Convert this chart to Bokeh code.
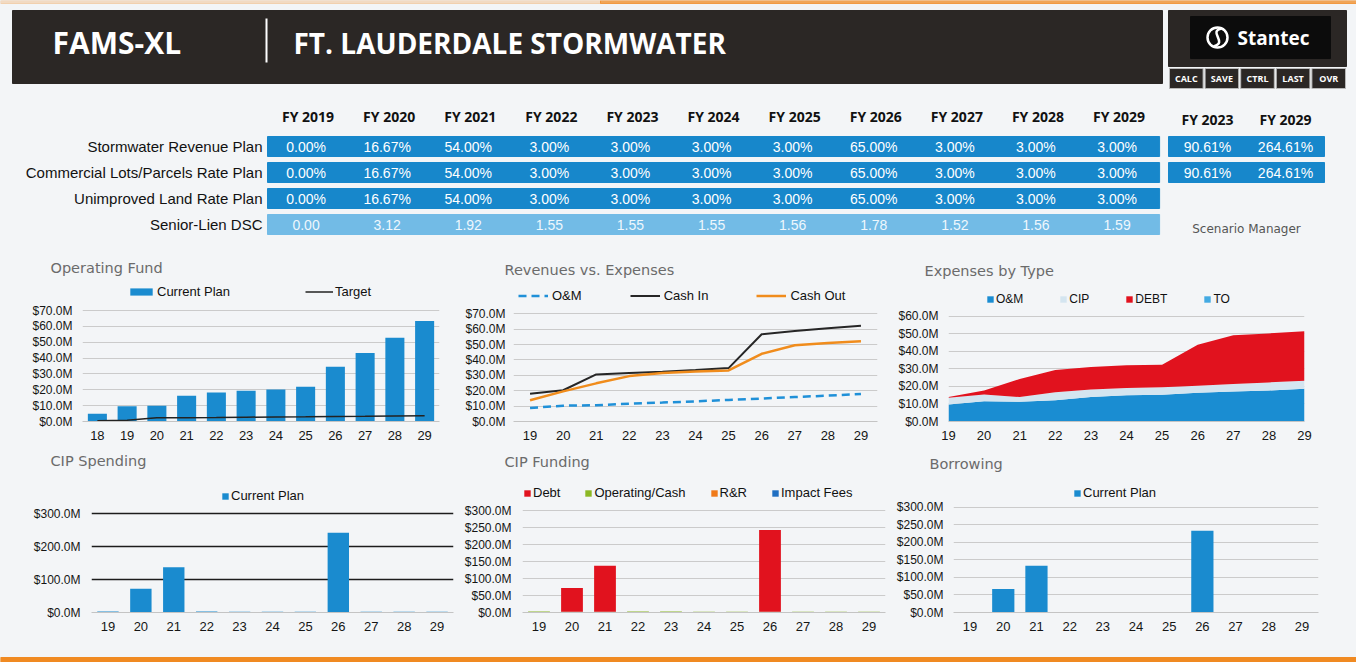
from bokeh.plotting import figure
from bokeh.layouts import column, row
from bokeh.models import (Range1d, FactorRange, FixedTicker, PrintfTickFormatter,
                          Legend, LegendItem, ColumnDataSource)
from bokeh.embed import file_html
from bokeh.resources import INLINE
from bokeh.core.properties import value

# ---------------- data ----------------
fy_labels = ["FY 2019", "FY 2020", "FY 2021", "FY 2022", "FY 2023", "FY 2024",
             "FY 2025", "FY 2026", "FY 2027", "FY 2028", "FY 2029"]
row_names = ["Stormwater Revenue Plan", "Commercial Lots/Parcels Rate Plan",
             "Unimproved Land Rate Plan", "Senior-Lien DSC"]
stormwater_plan = [0.00, 16.67, 54.00, 3.00, 3.00, 3.00, 3.00, 65.00, 3.00, 3.00, 3.00]
commercial_plan = [0.00, 16.67, 54.00, 3.00, 3.00, 3.00, 3.00, 65.00, 3.00, 3.00, 3.00]
unimproved_plan = [0.00, 16.67, 54.00, 3.00, 3.00, 3.00, 3.00, 65.00, 3.00, 3.00, 3.00]
senior_lien_dsc = [0.00, 3.12, 1.92, 1.55, 1.55, 1.55, 1.56, 1.78, 1.52, 1.56, 1.59]
summary_labels = ["FY 2023", "FY 2029"]
stormwater_cum = [90.61, 264.61]
commercial_cum = [90.61, 264.61]
buttons = ["CALC", "SAVE", "CTRL", "LAST", "OVR"]
chart_titles = ["Operating Fund", "Revenues vs. Expenses", "Expenses by Type",
                "CIP Spending", "CIP Funding", "Borrowing"]

op_years = ["18", "19", "20", "21", "22", "23", "24", "25", "26", "27", "28", "29"]
op_fund = [4.9, 9.6, 10.0, 16.2, 18.3, 19.4, 20.2, 21.9, 34.5, 43.2, 52.8, 63.4]
op_target = [0.5, 0.8, 2.3, 2.4, 2.5, 2.7, 2.9, 3.0, 3.2, 3.3, 3.5, 3.6]

years = ["19", "20", "21", "22", "23", "24", "25", "26", "27", "28", "29"]
rv_om = [8.8, 10.3, 10.6, 11.6, 12.3, 13.1, 14.0, 14.9, 15.9, 16.8, 17.9]
cash_in = [18.1, 20.3, 30.6, 31.5, 32.3, 33.4, 34.7, 56.7, 58.8, 60.6, 62.3]
cash_out = [13.8, 19.6, 24.8, 29.5, 31.5, 32.5, 33.2, 44.0, 49.6, 51.1, 52.2]

exp_om = [9.7, 11.5, 11.2, 12.1, 13.9, 14.9, 15.2, 16.4, 17.1, 17.7, 18.6]
exp_cip = [3.9, 3.9, 2.7, 4.6, 4.3, 4.2, 4.3, 4.0, 4.3, 4.6, 4.6]
exp_debt = [0.3, 2.3, 10.3, 12.7, 12.8, 12.9, 12.8, 23.3, 27.7, 27.9, 28.3]
exp_to = [0, 0, 0, 0, 0, 0, 0, 0, 0, 0, 0]

cip_spending = [3.0, 72.0, 137.5, 2.8, 2.6, 2.5, 2.4, 242.5, 2.3, 2.2, 2.0]
fund_debt = [0, 69.5, 135.0, 0, 0, 0, 0, 240.0, 0, 0, 0]
fund_operating = [3.0, 2.5, 2.5, 2.8, 2.6, 2.5, 2.4, 2.5, 2.3, 2.2, 2.0]
fund_rr = [0, 0, 0, 0, 0, 0, 0, 0, 0, 0, 0]
fund_impact = [0, 0, 0, 0, 0, 0, 0, 0, 0, 0, 0]
borrowing = [0, 67.0, 133.0, 0, 0, 0, 0, 233.0, 0, 0, 0]

# ---------------- style ----------------
BG = "#f3f5f7"
DARK = "#2b2725"
BLUE = "#1a8bcf"
TBLUE = "#1787cb"
LBLUE = "#72bbe6"
RED = "#e1121e"
GREEN = "#8cb824"
ORANGE = "#f08a22"
ARIAL = "Liberation Sans"
GOTHIC = "DejaVu Sans"
W = 1356


def canvas(h, y0):
    f = figure(width=W, height=h, x_range=Range1d(0, W), y_range=Range1d(y0 + h, y0),
               output_backend="svg", toolbar_location=None, min_border=0, title=None,
               x_axis_type=None, y_axis_type=None,
               background_fill_color=BG, border_fill_color=BG, outline_line_color=None)
    f.grid.visible = False
    return f


def titles(f, xs, ys, texts):
    f.text(x=xs, y=ys, text=texts, text_font=value(GOTHIC), text_font_size="14.5px",
           text_color="#6b6b6b", text_baseline="middle")


# ---------------- header + table (+ first-row chart titles) ----------------
top = canvas(280, 0)
top.quad(left=[0], right=[600], top=[0], bottom=[3], color=ORANGE, alpha=0.25)
top.quad(left=[600], right=[W], top=[0], bottom=[3], color=ORANGE, alpha=0.75)
top.quad(left=[12], right=[1162], top=[10], bottom=[83], color=DARK)
top.text(x=[52], y=[42], text=["FAMS-XL"], text_font=value("Open Sans"), text_font_style="bold",
         text_font_size="30px", text_color="white", text_baseline="middle")
top.segment(x0=[266], y0=[18], x1=[266], y1=[62], line_color="white", line_width=2)
top.text(x=[293], y=[42], text=["FT. LAUDERDALE STORMWATER"], text_font=value("Open Sans"),
         text_font_style="bold", text_font_size="28px", text_color="white", text_baseline="middle")

# Stantec block
top.quad(left=[1168], right=[1346], top=[10], bottom=[66], color=DARK)
top.quad(left=[1190], right=[1330], top=[16], bottom=[58], color="#0c0c0c")
top.circle(x=[1217], y=[37], radius=10, fill_color=None, line_color="white", line_width=2.5)
top.bezier(x0=[1221], y0=[28], x1=[1213], y1=[46], cx0=[1207], cy0=[31], cx1=[1228], cy1=[42],
           line_color="white", line_width=2.5)
top.text(x=[1237], y=[37], text=["Stantec"], text_font=value("Open Sans"), text_font_style="bold",
         text_font_size="19px", text_color="white", text_baseline="middle")
bw = 178 / len(buttons)
bx = [1168 + (i + 0.5) * bw for i in range(len(buttons))]
top.rect(x=bx, y=78, width=bw - 2, height=20, fill_color=DARK, line_color="#b8b8b8", line_width=1)
top.text(x=bx, y=78, text=buttons, text_font=value("Open Sans"), text_font_style="bold",
         text_font_size="9px", text_color="white", text_align="center", text_baseline="middle")

# table
col_w = 81.1
tbl_left = 267
col_x = [tbl_left + (i + 0.5) * col_w for i in range(len(fy_labels))]
row_y = [146, 172, 198, 224]
top.text(x=col_x, y=116, text=fy_labels, text_font=value("Open Sans"), text_font_style="bold",
         text_font_size="14px", text_color="#111111", text_align="center", text_baseline="middle")
top.text(x=262, y=row_y, text=row_names, text_font=value(ARIAL), text_font_size="15px",
         text_color="#111111", text_align="right", text_baseline="middle")
tbl_right = tbl_left + col_w * len(fy_labels)
top.quad(left=tbl_left, right=tbl_right, top=[y - 10 for y in row_y[:3]],
         bottom=[y + 10 for y in row_y[:3]], color=TBLUE)
top.quad(left=tbl_left, right=tbl_right, top=[row_y[3] - 10], bottom=[row_y[3] + 10], color=LBLUE)
for r, vals in enumerate([stormwater_plan, commercial_plan, unimproved_plan]):
    top.text(x=[c - 2 for c in col_x], y=row_y[r], text=[f"{v:.2f}%" for v in vals],
             text_font=value(ARIAL), text_font_size="14px", text_color="white",
             text_align="center", text_baseline="middle")
top.text(x=[c - 2 for c in col_x], y=row_y[3], text=[f"{v:.2f}" for v in senior_lien_dsc],
         text_font=value(ARIAL), text_font_size="14px", text_color="#eef7fd",
         text_align="center", text_baseline="middle")

sum_left, sum_w = 1168, 78
sum_x = [sum_left + (j + 0.5) * sum_w for j in range(len(summary_labels))]
top.text(x=sum_x, y=119, text=summary_labels, text_font=value("Open Sans"), text_font_style="bold",
         text_font_size="14px", text_color="#111111", text_align="center", text_baseline="middle")
top.quad(left=sum_left, right=sum_left + sum_w * 2, top=[y - 10 for y in row_y[:2]],
         bottom=[y + 10 for y in row_y[:2]], color=TBLUE)
for r, vals in enumerate([stormwater_cum, commercial_cum]):
    top.text(x=sum_x, y=row_y[r], text=[f"{v:.2f}%" for v in vals], text_font=value(ARIAL),
             text_font_size="14px", text_color="white", text_align="center", text_baseline="middle")
top.text(x=[1246], y=[228], text=["Scenario Manager"], text_font=value(GOTHIC),
         text_font_size="12px", text_color="#555555", text_align="center", text_baseline="middle")
titles(top, [50, 504, 924], [267, 269, 270], chart_titles[:3])

# strip with second-row chart titles
mid = canvas(30, 446)
titles(mid, [50, 504, 929], [460, 461, 463], chart_titles[3:])


# ---------------- chart helper ----------------
def chart(w, h, xr, y_end, ticks, borders, y_standoff):
    l, r, t, b = borders
    p = figure(width=w, height=h, x_range=xr, y_range=Range1d(0, y_end), title=None,
               output_backend="svg", toolbar_location=None,
               min_border_left=l, min_border_right=r, min_border_top=t, min_border_bottom=b,
               background_fill_color=BG, border_fill_color=BG, outline_line_color=None)
    ya = p.yaxis[0]
    ya.ticker = FixedTicker(ticks=ticks)
    ya.formatter = PrintfTickFormatter(format="$%.1fM")
    ya.axis_line_color = None
    ya.major_tick_line_color = None
    ya.minor_tick_line_color = None
    ya.major_tick_in = 0
    ya.major_tick_out = 0
    ya.axis_label_standoff = 0
    ya.major_label_standoff = y_standoff
    ya.major_label_text_font = ARIAL
    ya.major_label_text_font_size = "12px"
    ya.major_label_text_color = "#151515"
    xa = p.xaxis[0]
    xa.axis_line_color = "#c4c4c4"
    xa.major_tick_line_color = None
    xa.minor_tick_line_color = None
    xa.major_tick_in = 0
    xa.major_tick_out = 0
    xa.axis_label_standoff = 0
    xa.major_label_standoff = 9
    xa.major_label_text_font = ARIAL
    xa.major_label_text_font_size = "13px"
    xa.major_label_text_color = "#151515"
    p.xgrid.visible = False
    p.ygrid.grid_line_color = "#cbcbcb"
    return p


def legend(p, items, loc, spacing, gw, gh, standoff, size="13px"):
    lg = Legend(items=items, orientation="horizontal", location=loc, spacing=spacing,
                padding=0, margin=0, glyph_width=gw, glyph_height=gh, label_height=14,
                label_standoff=standoff, border_line_color=None, background_fill_alpha=0,
                label_text_font=ARIAL, label_text_font_size=size, label_text_color="#111111")
    p.add_layout(lg)


H1, H2 = 166, 176   # row heights (frames: 281..421 and 477..612)

# Chart 1: Operating Fund
c1 = chart(458, H1, FactorRange(*op_years), 88.3, [0, 10, 20, 30, 40, 50, 60, 70],
           (82, 19, 1, 25), 10)
r1 = c1.vbar(x=op_years, top=op_fund, width=0.64, fill_color=BLUE, line_color=None)
r2 = c1.line(x=op_years, y=op_target, line_color="#222222", line_width=1.5)
legend(c1, [LegendItem(label="Current Plan", renderers=[r1]), LegendItem(label="Target", renderers=[r2])],
       (45, 122), 75, 28, 9, 2)

# Chart 2: Revenues vs. Expenses
c2 = chart(435, H1, FactorRange(*years), 91.0, [0, 10, 20, 30, 40, 50, 60, 70],
           (55, 16, 1, 25), 8)
ra = c2.line(x=years, y=rv_om, line_color="#1f90d8", line_width=2.5, line_dash="8 5")
rb = c2.line(x=years, y=cash_in, line_color="#262626", line_width=2)
rc = c2.line(x=years, y=cash_out, line_color="#f08c1c", line_width=2.5)
legend(c2, [LegendItem(label="O&M", renderers=[ra]), LegendItem(label="Cash In", renderers=[rb]),
            LegendItem(label="Cash Out", renderers=[rc])], (5, 118), 48, 30, 9, 4)

# Chart 3: Expenses by Type
xs = [int(y) for y in years]
c3 = chart(463, H1, Range1d(xs[0], xs[-1]), 79.8, [0, 10, 20, 30, 40, 50, 60],
           (55, 52, 1, 25), 10)
c3.xaxis[0].ticker = FixedTicker(ticks=xs)
src3 = ColumnDataSource(dict(x=xs, om=exp_om, cip=exp_cip, debt=exp_debt, to=exp_to))
areas = c3.varea_stack(["om", "cip", "debt", "to"], x="x", source=src3,
                       color=["#1a8dd2", "#d4e5f0", RED, "#43aae2"])
legend(c3, [LegendItem(label=n, renderers=[a]) for n, a in zip(["O&M", "CIP", "DEBT", "TO"], areas)],
       (38, 115), 36, 8, 8, 2, size="12px")

# Chart 4: CIP Spending
c4 = chart(458, H2, FactorRange(*years), 410.3, [0, 100, 200, 300], (91, 5, 1, 40), 11)
c4.ygrid.ticker = FixedTicker(ticks=[100, 200, 300])
c4.ygrid.grid_line_color = "#1c1c1c"
c4.ygrid.grid_line_width = 1.3
r4 = c4.vbar(x=years, top=cip_spending, width=0.65, fill_color=BLUE, line_color=None)
legend(c4, [LegendItem(label="Current Plan", renderers=[r4])], (130, 109), 0, 8, 8, 2)

# Chart 5: CIP Funding
c5 = chart(435, H2, FactorRange(*years), 397.1, [0, 50, 100, 150, 200, 250, 300],
           (64, 8, 1, 40), 11)
src5 = ColumnDataSource(dict(x=years, op=fund_operating, debt=fund_debt, rr=fund_rr, imp=fund_impact))
bars5 = c5.vbar_stack(["op", "debt", "rr", "imp"], x="x", width=0.66, source=src5,
                      fill_color=[GREEN, RED, "#f07a1a", "#1f6fc2"], line_color=None)
legend(c5, [LegendItem(label="Debt", renderers=[bars5[1]]),
            LegendItem(label="Operating/Cash", renderers=[bars5[0]]),
            LegendItem(label="R&R", renderers=[bars5[2]]),
            LegendItem(label="Impact Fees", renderers=[bars5[3]])], (1, 112), 24, 8, 8, 2)

# Chart 6: Borrowing
c6 = chart(463, H2, FactorRange(*years), 384.6, [0, 50, 100, 150, 200, 250, 300],
           (60, 38, 1, 40), 10)
r6 = c6.vbar(x=years, top=borrowing, width=0.67, fill_color=BLUE, line_color=None)
legend(c6, [LegendItem(label="Current Plan", renderers=[r6])], (120, 112), 0, 8, 8, 2)

# bottom orange strip
bot = canvas(10, 652)
bot.quad(left=[0], right=[W], top=[655], bottom=[660], color=ORANGE)

bgstyle = {"background-color": BG}
layout = column(top, row(c1, c2, c3, styles=bgstyle), mid, row(c4, c5, c6, styles=bgstyle), bot,
                styles=bgstyle)
open("out.html", "w").write(file_html(layout, INLINE))
